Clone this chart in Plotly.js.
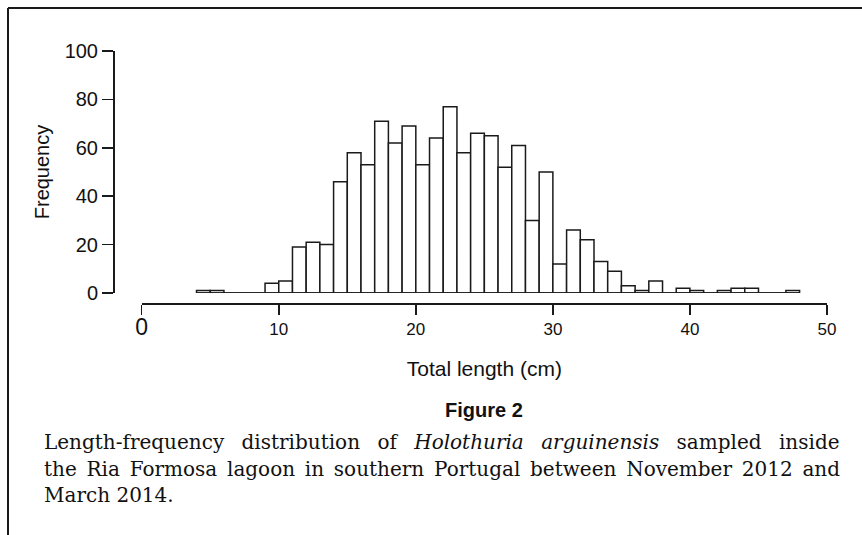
<!DOCTYPE html>
<html>
<head>
<meta charset="utf-8">
<script src="https://cdn.plot.ly/plotly-3.0.1.min.js"></script>
<style>html,body{margin:0;padding:0;background:#fff;}</style>
</head>
<body>
<div id="chart" style="width:862px;height:535px;"></div>
<script>
// Bin left edges (cm), 1-cm bins
const binLeft = [4,5,6,7,8,9,10,11,12,13,14,15,16,17,18,19,20,21,22,23,24,25,26,27,28,29,30,31,32,33,34,35,36,37,38,39,40,41,42,43,44,45,46,47];
// Frequency in each bin
const frequency = [1,1,0,0,0,4,5,19,21,20,46,58,53,71,62,69,53,64,77,58,66,65,52,61,30,50,12,26,22,13,9,3,1,5,0,2,1,0,1,2,2,0,0,1];
const binWidth = 1;
const xTickVals = [0,10,20,30,40,50];
const xTickLabels = ['0','10','20','30','40','50'];
const yTickVals = [0,20,40,60,80,100];
const yTickLabels = ['0','20','40','60','80','100'];
const captionLines = [
  'Length-frequency distribution of <i>Holothuria arguinensis</i> sampled inside',
  'the Ria Formosa lagoon in southern Portugal between November 2012 and',
  'March 2014.'
];
const captionWordSpacing = [11, 3.4, 0];

const W = 862, H = 535;
const L = 113, R = 35, T = 51, B = 232;
const pw = W - L - R, ph = H - T - B;
const px = v => (v - L) / pw;
const py = v => (H - B - v) / ph;
const ink = '#1a1a1a';

const bars = {
  type: 'bar',
  x: binLeft,
  y: frequency,
  offset: 0,
  width: binWidth,
  marker: {color: '#ffffff', line: {color: ink, width: 1.5}},
  hoverinfo: 'x+y',
  cliponaxis: false
};
const baseline = {
  type: 'scatter',
  mode: 'lines',
  x: [binLeft[0], binLeft[binLeft.length - 1] + binWidth],
  y: [0, 0],
  line: {color: ink, width: 1.5},
  hoverinfo: 'skip',
  cliponaxis: false
};

const xText = xTickLabels.map((t, i) => i === 0 ? '<span style="font-size:23px">' + t + '</span>' : t);

const layout = {
  width: W, height: H,
  margin: {l: L, r: R, t: T, b: B, pad: 0},
  paper_bgcolor: '#ffffff',
  plot_bgcolor: '#ffffff',
  showlegend: false,
  bargap: 0,
  xaxis: {
    domain: [(141.7 - L) / pw, 1],
    range: [0, 50],
    anchor: 'free', position: 0,
    showline: true, linecolor: ink, linewidth: 1.5,
    ticks: 'outside', ticklen: 10, tickwidth: 1.5, tickcolor: ink,
    tickvals: xTickVals, ticktext: xText,
    tickfont: {family: 'Liberation Sans, Arial, sans-serif', size: 17, color: '#111'},
    showgrid: false, zeroline: false,
    title: {text: 'Total length (cm)', font: {family: 'Liberation Sans, Arial, sans-serif', size: 21, color: '#111'}, standoff: 22}
  },
  yaxis: {
    domain: [10 / ph, 1],
    range: [0, 100],
    anchor: 'free', position: 0,
    showline: true, linecolor: ink, linewidth: 1.5,
    ticks: 'outside', ticklen: 11, tickwidth: 1.5, tickcolor: ink,
    tickvals: yTickVals, ticktext: yTickLabels,
    tickfont: {family: 'Liberation Sans, Arial, sans-serif', size: 20, color: '#111'},
    showgrid: false, zeroline: false,
    title: {text: 'Frequency', font: {family: 'Liberation Sans, Arial, sans-serif', size: 20, color: '#111'}, standoff: 8}
  },
  shapes: [
    {type: 'line', xref: 'paper', yref: 'paper', x0: px(8), x1: px(862), y0: py(8), y1: py(8), line: {color: ink, width: 2}},
    {type: 'line', xref: 'paper', yref: 'paper', x0: px(8), x1: px(8), y0: py(8), y1: py(535), line: {color: ink, width: 2}}
  ],
  annotations: [
    {text: '<b>Figure 2</b>', xref: 'paper', yref: 'paper', x: px(484), y: py(410), xanchor: 'center', yanchor: 'middle', showarrow: false,
     font: {family: 'Liberation Sans, Arial, sans-serif', size: 20, color: '#111'}}
  ].concat(captionLines.map((t, i) => ({
     text: '<span style="word-spacing:' + captionWordSpacing[i] + 'px">' + t + '</span>',
     xref: 'paper', yref: 'paper', x: px(42), y: py(442 + i * 26.5), xanchor: 'left', yanchor: 'middle', showarrow: false,
     font: {family: 'DejaVu Serif, serif', size: 20, color: '#111'}
  })))
};

Plotly.newPlot('chart', [bars, baseline], layout, {displayModeBar: false, staticPlot: true});
</script>
</body>
</html>
